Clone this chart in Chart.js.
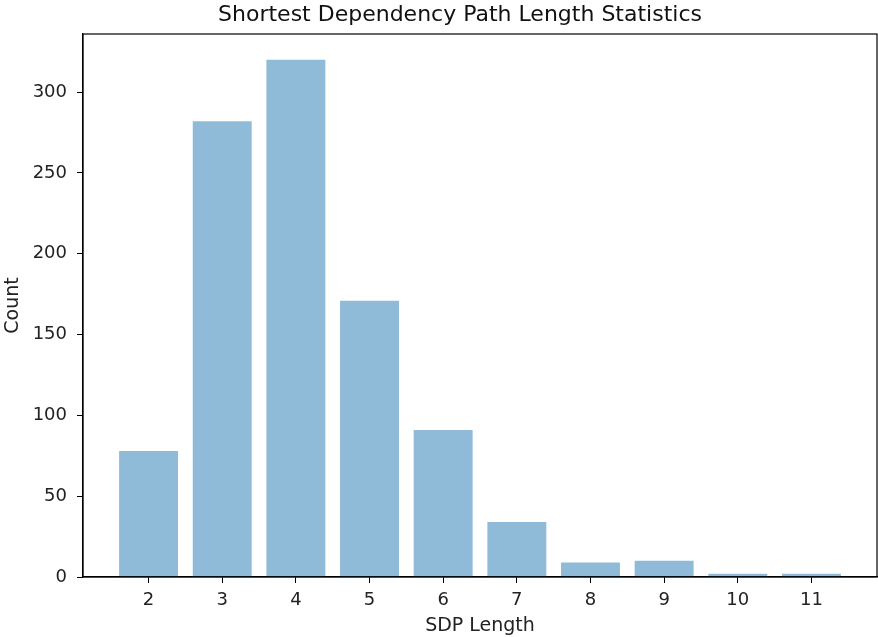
<!DOCTYPE html>
<html>
<head>
<meta charset="utf-8">
<script src="https://cdn.jsdelivr.net/npm/chart.js@4"></script>
<style>
html,body{margin:0;padding:0;background:#fff;}
#wrap{width:878px;height:637px;}
</style>
</head>
<body>
<div id="wrap"><canvas id="c" width="878" height="637"></canvas></div>
<script>
const sdpLengths = [2, 3, 4, 5, 6, 7, 8, 9, 10, 11];
const counts = [78, 282, 320, 171, 91, 34, 9, 10, 2, 2];
const yTicks = [0, 50, 100, 150, 200, 250, 300];
const chartTitle = 'Shortest Dependency Path Length Statistics';

const FONT = "'DejaVu Sans', sans-serif";
const frame = {
  id: 'frame',
  afterDatasetsDraw(chart) {
    const a = chart.chartArea, ctx = chart.ctx;
    ctx.save();
    ctx.strokeStyle = '#000';
    ctx.lineWidth = 1.2;
    ctx.strokeRect(a.left, a.top, a.right - a.left, a.bottom - a.top);
    ctx.fillStyle = '#111';
    ctx.font = '22px ' + FONT;
    ctx.textAlign = 'center';
    ctx.textBaseline = 'middle';
    ctx.fillText(chartTitle, 460, 15);
    ctx.restore();
  }
};

new Chart(document.getElementById('c'), {
  type: 'bar',
  data: {
    datasets: [{
      data: sdpLengths.map((x, i) => ({x: x, y: counts[i]})),
      backgroundColor: 'rgba(31,119,180,0.5)',
      borderWidth: 0,
      barPercentage: 0.8,
      categoryPercentage: 1.0
    }]
  },
  options: {
    responsive: false,
    animation: false,
    devicePixelRatio: 1,
    layout: {padding: {left: 0, right: 1, top: 34, bottom: 0}},
    plugins: {
      legend: {display: false},
      tooltip: {enabled: false},
      title: {display: false}
    },
    scales: {
      x: {
        type: 'linear',
        min: 1.11,
        max: 11.89,
        offset: false,
        grid: {display: true, drawOnChartArea: false, tickLength: 6, color: '#000', offset: false},
        border: {color: '#000', width: 1.2},
        ticks: {stepSize: 1, includeBounds: false, color: '#222', padding: 7, maxRotation: 0,
          font: {family: FONT, size: 18}},
        title: {display: true, text: 'SDP Length', color: '#222', padding: {top: 0, bottom: 0},
          font: {family: FONT, size: 19}},
        afterFit(s) { s.height = 60; }
      },
      y: {
        min: 0,
        max: 336,
        grid: {display: true, drawOnChartArea: false, tickLength: 6, color: '#000'},
        border: {color: '#000', width: 1.2},
        afterBuildTicks(s) { s.ticks = yTicks.map(v => ({value: v})); },
        ticks: {color: '#222', padding: 10, font: {family: FONT, size: 18}},
        title: {display: true, text: 'Count', color: '#222', padding: {top: 2, bottom: 0},
          font: {family: FONT, size: 19}},
        afterFit(s) { s.width = 83; }
      }
    }
  },
  plugins: [frame]
});
</script>
</body>
</html>
